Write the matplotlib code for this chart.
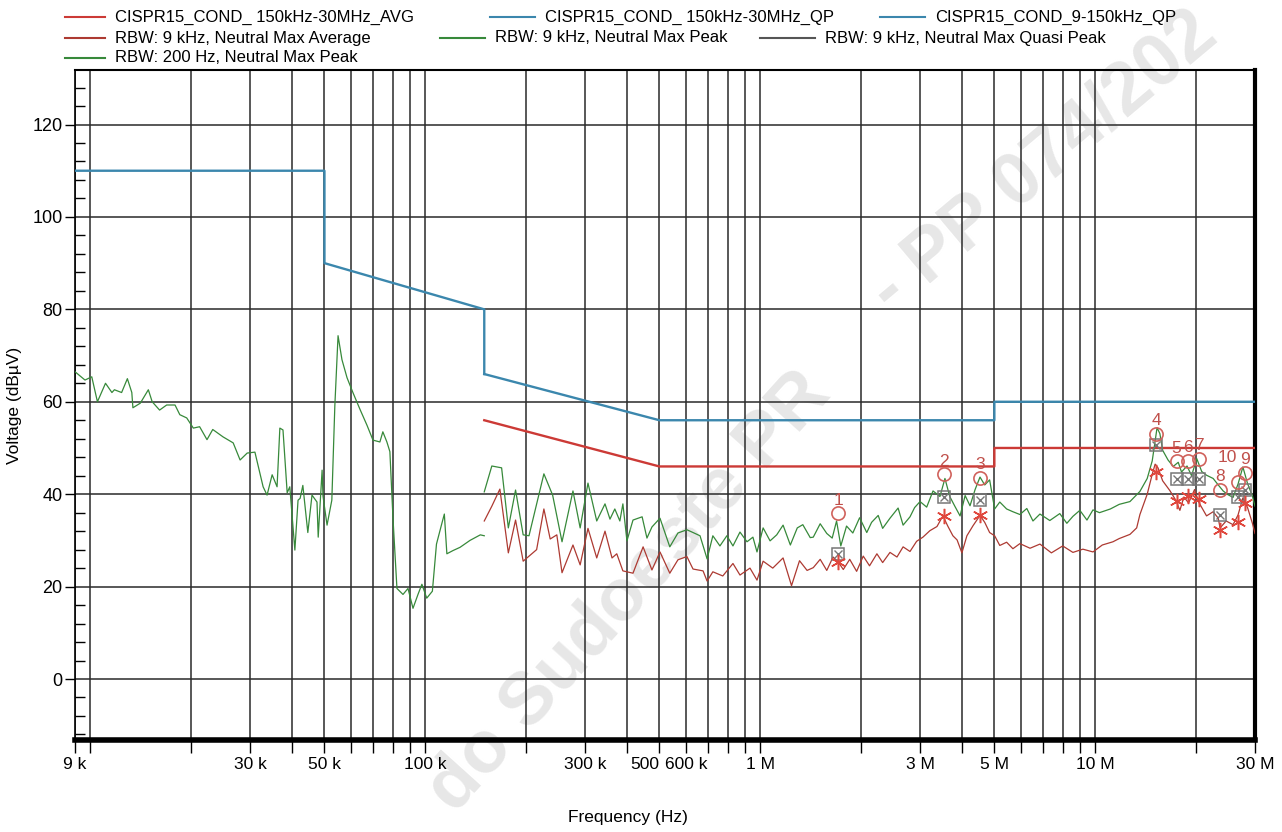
import matplotlib
matplotlib.use("Agg")
import matplotlib.pyplot as plt
from matplotlib import font_manager
from matplotlib.lines import Line2D
from matplotlib.ticker import NullLocator
import numpy as np

# ── Data (frequency in kHz, level in dBµV) ───────────────────────────────

# RBW 200 Hz, neutral max peak (9 kHz - 150 kHz)
peak200_f = [9.0, 9.64, 10.1, 10.5, 11.1, 11.6, 11.8, 12.4, 12.9, 13.3,
             13.4, 14.1, 14.9, 15.3, 16.1, 16.9, 17.9, 18.5, 19.4, 20.3,
             21.2, 22.3, 23.2, 24.9, 26.7, 28.0, 29.4, 31.0, 32.8, 33.7,
             34.9, 36.1, 36.8, 37.6, 38.7, 39.4, 40.8, 41.7, 42.3, 43.1,
             44.6, 45.9, 47.5, 47.9, 49.2, 49.5, 50.9, 52.6, 53.7, 54.9,
             56.4, 58.4, 60.8, 63.8, 67.0, 69.8, 73.2, 74.7, 76.8, 78.4,
             80.1, 82.3, 85.8, 88.8, 91.9, 95.1, 97.7, 101, 105, 108,
             112, 114, 116, 121, 127, 136, 146, 150]
peak200_v = [66.5, 64.7, 65.4, 60.0, 64.0, 62.0, 62.6, 62.0, 65.0, 62.0,
             58.7, 59.7, 62.6, 60.0, 58.2, 59.3, 59.3, 57.2, 56.5, 54.3,
             54.6, 51.8, 54.0, 52.4, 51.1, 47.4, 48.9, 49.1, 41.6, 39.8,
             44.2, 41.6, 54.3, 53.9, 40.3, 41.6, 27.9, 38.7, 39.1, 41.9,
             31.7, 39.8, 38.3, 30.7, 45.2, 39.6, 33.3, 38.7, 59.1, 74.3,
             69.1, 65.2, 62.0, 58.4, 54.9, 51.7, 51.3, 53.5, 51.3, 49.2,
             34.7, 19.6, 18.3, 19.6, 15.3, 18.3, 20.5, 17.5, 19.0, 29.2,
             33.6, 35.7, 27.1, 27.8, 28.5, 30.0, 31.2, 31.0]

# RBW 9 kHz, neutral max peak (150 kHz - 30 MHz)
peak9_f = [150, 158, 169, 177, 186, 196, 204, 226, 240, 256,
           276, 290, 306, 325, 344, 356, 368, 381, 389, 400,
           417, 444, 459, 475, 502, 537, 568, 604, 630, 661,
           694, 722, 758, 795, 829, 870, 913, 951, 978, 1020,
           1070, 1120, 1170, 1230, 1290, 1340, 1410, 1440, 1510, 1580,
           1640, 1690, 1740, 1810, 1890, 1980, 2080, 2150, 2250, 2320,
           2440, 2580, 2670, 2800, 2890, 3000, 3140, 3280, 3440, 3560,
           3680, 3810, 3950, 4090, 4230, 4380, 4530, 4680, 4840, 5010,
           5190, 5440, 5680, 5960, 6250, 6520, 6840, 7320, 7840, 8230,
           8580, 9000, 9450, 9850, 10300, 11100, 11800, 12700, 13600, 14300,
           14800, 15100, 15300, 15600, 15900, 16500, 17100, 17700, 18100, 18800,
           19400, 20100, 20800, 21500, 22500, 23300, 24100, 24900, 25800, 26700,
           27600, 28500, 29500, 30000]
peak9_v = [40.5, 46.1, 45.7, 32.7, 40.9, 31.2, 31.0, 44.4, 39.8, 29.7,
           40.7, 32.7, 42.4, 34.2, 37.9, 34.6, 36.8, 34.2, 37.9, 29.9,
           34.4, 35.1, 30.5, 32.9, 34.8, 28.6, 31.6, 32.3, 31.7, 31.0,
           26.0, 31.0, 28.8, 31.0, 28.8, 31.8, 29.7, 30.7, 27.5, 32.7,
           29.9, 31.2, 33.3, 29.0, 32.7, 33.4, 30.6, 30.7, 33.6, 31.5,
           30.5, 34.2, 28.8, 33.1, 31.6, 34.9, 31.7, 33.9, 35.4, 32.6,
           34.8, 37.0, 33.3, 35.1, 37.1, 38.4, 37.2, 40.7, 39.5, 43.4,
           39.5, 37.4, 35.3, 39.7, 37.5, 41.0, 43.7, 42.0, 43.1, 36.8,
           38.3, 36.8, 36.2, 35.6, 36.9, 34.2, 35.7, 34.3, 35.8, 33.7,
           35.2, 36.5, 34.4, 36.6, 36.0, 36.8, 37.8, 38.4, 40.6, 43.4,
           47.2, 51.5, 54.4, 53.1, 49.5, 47.4, 46.0, 46.9, 44.8, 46.1,
           44.0, 47.7, 44.9, 44.1, 43.4, 42.0, 40.7, 39.9, 39.3, 42.2,
           45.9, 42.3, 39.5, 37.4]

# RBW 9 kHz, neutral max average (150 kHz - 30 MHz)
avg9_f = [150, 158, 167, 177, 186, 196, 215, 226, 236, 247,
          256, 276, 290, 306, 325, 344, 361, 373, 389, 417,
          447, 475, 502, 537, 568, 604, 630, 675, 694, 722,
          773, 829, 870, 932, 978, 1020, 1090, 1170, 1240, 1310,
          1380, 1440, 1510, 1580, 1650, 1710, 1770, 1850, 1940, 2030,
          2120, 2230, 2320, 2440, 2560, 2670, 2800, 2930, 3060, 3210,
          3370, 3510, 3630, 3760, 3870, 4000, 4140, 4320, 4530, 4680,
          4840, 5010, 5190, 5440, 5680, 5960, 6390, 6840, 7400, 8000,
          8580, 9190, 9850, 10500, 11300, 11800, 12700, 13300, 13600, 14300,
          14800, 15100, 15400, 15900, 16700, 17400, 17900, 18400, 19000, 19800,
          20400, 21500, 22500, 23300, 23600, 24600, 25800, 26700, 27600, 28500,
          29500, 30000]
avg9_v = [34.2, 37.4, 41.1, 27.3, 34.4, 25.5, 28.0, 36.8, 30.3, 31.2,
          23.0, 29.0, 24.7, 32.6, 26.2, 32.0, 26.2, 27.1, 23.4, 22.9,
          28.6, 23.6, 27.5, 22.9, 25.8, 26.5, 23.8, 23.4, 21.2, 23.2,
          22.3, 25.0, 22.5, 24.0, 21.4, 25.5, 24.0, 26.2, 20.2, 25.6,
          23.5, 24.1, 25.9, 23.5, 26.4, 25.3, 23.7, 25.9, 23.3, 26.6,
          24.5, 27.1, 25.2, 27.4, 26.4, 28.6, 27.6, 29.8, 30.7, 32.1,
          33.0, 35.3, 33.1, 31.0, 30.1, 27.3, 31.0, 33.2, 35.4, 33.9,
          31.7, 31.0, 28.9, 29.6, 28.2, 29.3, 28.3, 29.2, 27.3, 28.8,
          27.4, 28.1, 27.5, 29.0, 29.7, 30.4, 31.3, 32.7, 35.6, 40.0,
          44.3, 46.5, 45.7, 42.9, 40.8, 38.7, 36.5, 39.4, 38.1, 41.0,
          38.2, 35.3, 36.2, 34.8, 32.7, 34.2, 33.4, 35.5, 39.2, 37.1,
          33.6, 31.5]

# CISPR 15 limit lines
lim_qp_lf_f = [9, 50, 50, 150, 150]
lim_qp_lf_v = [110, 110, 90, 80, 66]
lim_qp_f = [150, 500, 5000, 5000, 30000]
lim_qp_v = [66, 56, 56, 60, 60]
lim_avg_f = [150, 500, 5000, 5000, 30000]
lim_avg_v = [56, 46, 46, 50, 50]

# final measurement markers
mk_num = ["1", "2", "3", "4", "5", "6", "7", "8", "9", "10"]
mk_f = [1710, 3530, 4530, 15200, 17500, 18900, 20400, 23600, 28000, 26700]
mk_qp = [35.9, 44.3, 43.6, 53.1, 47.1, 47.2, 47.7, 41.0, 44.6, 42.6]
mk_sq = [27.1, 39.4, 38.8, 50.7, 43.2, 43.2, 43.3, 35.4, 40.9, 39.3]
mk_av = [25.3, 35.3, 35.4, 44.9, 38.5, 39.7, 38.9, 32.2, 38.0, 33.9]

# axis ticks
grid_khz = ([9] + [k * 10 for k in range(1, 10)] + [k * 100 for k in range(1, 10)]
            + [k * 1000 for k in range(1, 10)] + [10000, 20000, 30000])
tick_names = {9: "9 k", 30: "30 k", 50: "50 k", 100: "100 k", 300: "300 k",
              500: "500", 600: "600 k", 1000: "1 M", 3000: "3 M", 5000: "5 M",
              10000: "10 M", 30000: "30 M"}

legend_labels = [
    "CISPR15_COND_ 150kHz-30MHz_AVG", "CISPR15_COND_ 150kHz-30MHz_QP",
    "CISPR15_COND_9-150kHz_QP", "RBW: 9 kHz, Neutral Max Average",
    "RBW: 9 kHz, Neutral Max Peak", "RBW: 9 kHz, Neutral Max Quasi Peak",
    "RBW: 200 Hz, Neutral Max Peak",
]

# ── Style ────────────────────────────────────────────────────────────────
names = {f.name for f in font_manager.fontManager.ttflist}
NARROW = "Liberation Sans Narrow" if "Liberation Sans Narrow" in names else "Liberation Sans"
REGULAR = "Liberation Sans"

C_AVG_LIM = "#cc3a36"
C_QP_LIM = "#3b87ad"
C_PEAK = "#37893a"
C_AVG = "#ad3a32"
C_GRID = "#2a2a2a"

W, H = 1282, 832
fig = plt.figure(figsize=(W / 100, H / 100), dpi=100)
fig.patch.set_facecolor("white")
ax = fig.add_axes([75 / W, 1 - 740 / H, 1180 / W, 670 / H])
ax.set_facecolor("none")

hz = lambda seq: np.asarray(seq, dtype=float) * 1e3

# limits
ax.plot(hz(lim_qp_lf_f), lim_qp_lf_v, color=C_QP_LIM, lw=1.7, zorder=3)
ax.plot(hz(lim_qp_f), lim_qp_v, color=C_QP_LIM, lw=1.7, zorder=3)
ax.plot(hz(lim_avg_f), lim_avg_v, color=C_AVG_LIM, lw=1.7, zorder=3)

# traces
ax.plot(hz(peak200_f), peak200_v, color=C_PEAK, lw=0.9, zorder=4)
ax.plot(hz(peak9_f), peak9_v, color=C_PEAK, lw=0.9, zorder=4)
ax.plot(hz(avg9_f), avg9_v, color=C_AVG, lw=0.9, zorder=4)

# markers
mf = hz(mk_f)
ax.plot(mf, mk_sq, ls="none", marker="s", ms=9, mfc="none", mec="#777777", mew=1.1, zorder=5)
ax.plot(mf, mk_sq, ls="none", marker="x", ms=6, mec="#777777", mew=1.0, zorder=5)
ax.plot(mf, mk_av, ls="none", marker=(6, 2, 0), ms=11, mec="#e0473d", mew=1.1, zorder=5)
ax.plot(mf, mk_qp, ls="none", marker="o", ms=9.5, mfc="none", mec="#d0625c", mew=1.2, zorder=6)
for num, f, v in zip(mk_num, mf, mk_qp):
    # "10" sits up and to the left of its circle on the printout
    dx, dy, ha = (-1, 12, "right") if num == "10" else (0, 4, "center")
    ax.annotate(num, (f, v), xytext=(dx, dy), textcoords="offset points",
                ha=ha, va="bottom", fontsize=12.5, color="#c0504b",
                family=REGULAR, zorder=7)

# axes
ax.set_xscale("log")
ax.set_xlim(9e3, 30e6)
ax.set_ylim(-13.2, 131.8)
ax.set_xticks(hz(grid_khz))
ax.set_xticklabels([tick_names.get(k, "") for k in grid_khz], family=NARROW, fontsize=12.5)
ax.get_xticklabels()[grid_khz.index(500)].set_ha("right")
ax.xaxis.set_minor_locator(NullLocator())
ax.set_yticks(range(0, 121, 20))
ax.set_yticks(np.arange(-12, 132, 4), minor=True)
for lbl in ax.get_yticklabels():
    lbl.set_family(REGULAR)
    lbl.set_fontsize(13)
ax.tick_params(axis="x", which="major", direction="out", length=9, width=1, pad=3)
ax.tick_params(axis="y", which="major", direction="out", length=7, width=1, pad=2)
ax.tick_params(axis="y", which="minor", direction="in", length=7, width=1)
ax.grid(True, axis="x", which="major", color=C_GRID, lw=1.1, zorder=1)
ax.grid(True, axis="y", which="major", color=C_GRID, lw=1.1, zorder=1)
ax.set_axisbelow(True)

ax.spines["bottom"].set_linewidth(4.0)
ax.spines["right"].set_linewidth(3.0)
ax.spines["top"].set_linewidth(1.5)
ax.spines["left"].set_linewidth(1.2)

ax.set_ylabel("Voltage (dBµV)", family=REGULAR, fontsize=12.5)
ax.yaxis.set_label_coords(-0.045, 0.5)
ax.set_xlabel("Frequency (Hz)", family=NARROW, fontsize=12.5)
ax.xaxis.set_label_coords(0.469, -0.104)

# legend, laid out by hand like the analyser printout
legend_rows = [
    (17, [(65, 105, C_AVG_LIM), (490, 535, C_QP_LIM), (880, 925, C_QP_LIM)]),
    (38, [(65, 105, C_AVG), (440, 485, C_PEAK), (760, 815, "#555555")]),
    (58, [(65, 105, C_PEAK)]),
]
i = 0
for y, items in legend_rows:
    for x0, x1, col in items:
        fig.add_artist(Line2D([x0 / W, x1 / W], [1 - y / H, 1 - y / H],
                              color=col, lw=1.5, transform=fig.transFigure))
        fig.text((x1 + 10) / W, 1 - y / H, legend_labels[i], ha="left", va="center",
                 family=NARROW, fontsize=12)
        i += 1

# scan watermark (two pieces, the stamp is slightly bent on the scan)
wm = dict(rotation_mode="anchor", ha="left", va="baseline", fontsize=53,
          fontweight="bold", color="#e7e7e7", family=REGULAR, zorder=-1)
fig.text(455 / W, 1 - 815 / H, "do Sudoeste PR", rotation=48, **wm)
fig.text(892 / W, 1 - 315 / H, "- PP 074/202", rotation=40, **wm)

fig.savefig("out.png", dpi=100)
